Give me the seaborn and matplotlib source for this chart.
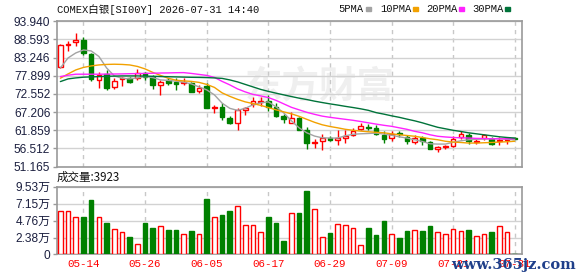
import numpy as np
import pandas as pd
import matplotlib
matplotlib.use("Agg")
import matplotlib.pyplot as plt
import seaborn as sns

# ---------------- data ----------------
title = "COMEX白银[SI00Y] 2026-07-31 14:40"
last_date = "2026-07-31"
volume_label = "成交量:3923"

open_ = [80.57, 87.04, 87.74, 88.42, 84.22, 76.66, 78.34, 74.52, 76.87, 77.16,
         77.16, 78.63, 77.63, 75.20, 76.66, 75.99, 75.78, 75.70, 73.52, 74.90,
         68.44, 68.82, 65.41, 63.94, 67.85, 69.53, 70.29, 70.58, 68.64, 66.09,
         64.12, 65.41, 61.98, 58.16, 58.54, 59.54, 58.83, 59.54, 60.51, 62.18,
         62.94, 62.65, 60.30, 59.54, 61.01, 59.83, 58.36, 59.54, 58.36, 56.39,
         56.78, 57.07, 59.71, 60.30, 58.24, 59.54, 59.24, 58.54, 59.04, 59.54]
close = [86.95, 87.24, 88.42, 84.51, 76.87, 78.13, 74.40, 76.37, 77.16, 76.17,
         78.63, 77.63, 75.20, 75.99, 75.70, 75.58, 76.17, 73.23, 74.40, 68.44,
         68.64, 65.88, 63.94, 67.85, 68.35, 70.50, 70.58, 68.82, 66.09, 65.12,
         65.41, 61.98, 58.07, 58.36, 59.54, 59.04, 59.54, 60.01, 61.68, 63.15,
         62.65, 60.80, 59.24, 60.71, 60.71, 58.54, 59.54, 58.54, 56.30, 56.78,
         57.07, 59.24, 60.71, 58.54, 58.54, 60.30, 57.86, 59.04, 59.54, 59.24]
high = [87.09, 88.21, 90.38, 89.21, 84.51, 78.93, 79.60, 77.16, 77.63, 77.63,
        79.90, 79.10, 78.13, 76.66, 77.16, 77.16, 77.16, 76.17, 75.20, 75.78,
        69.32, 69.82, 66.09, 68.35, 68.82, 71.76, 71.76, 72.26, 70.00, 66.68,
        67.35, 65.88, 62.94, 59.24, 60.80, 60.21, 61.77, 61.98, 62.48, 63.94,
        63.74, 63.24, 61.48, 61.48, 61.68, 60.51, 60.51, 60.01, 58.54, 57.07,
        57.57, 60.01, 61.68, 61.01, 59.24, 60.71, 59.71, 59.83, 59.83, 59.71]
low = [80.10, 85.18, 86.74, 84.01, 76.37, 74.23, 73.73, 74.02, 74.90, 75.70,
       76.66, 76.66, 74.02, 72.26, 75.20, 73.73, 75.20, 73.14, 72.93, 68.29,
       66.88, 64.91, 63.80, 61.98, 66.38, 68.82, 69.03, 67.65, 65.71, 63.94,
       63.94, 61.77, 56.30, 56.60, 56.10, 58.54, 57.57, 58.07, 60.01, 61.98,
       61.98, 60.51, 58.07, 58.54, 59.71, 57.86, 57.78, 57.57, 56.25, 55.42,
       56.39, 56.78, 59.33, 57.78, 57.78, 59.04, 57.36, 57.57, 57.78, 59.13]
volume_wan = [6.18, 6.09, 5.24, 5.24, 7.64, 5.24, 4.39, 3.63, 3.21, 2.41,
              1.51, 4.39, 3.68, 3.96, 3.40, 3.40, 2.92, 3.26, 2.92, 7.78,
              5.24, 5.52, 6.09, 6.75, 4.20, 4.20, 3.21, 5.24, 4.39, 1.84,
              5.90, 5.80, 8.92, 6.35, 2.48, 3.04, 4.25, 4.11, 3.69, 1.35,
              3.74, 2.76, 4.67, 2.85, 2.34, 3.32, 3.41, 3.32, 4.02, 3.13,
              2.85, 3.55, 3.32, 3.46, 2.62, 2.85, 3.18, 4.02, 3.13, 0.0392]

ma5 = [80.19, 83.13, 84.60, 85.48, 85.19, 83.57, 80.19, 77.84, 77.16, 76.96,
       77.25, 77.63, 77.34, 76.66, 76.52, 76.28, 75.99, 75.49, 74.61, 73.73,
       72.26, 69.82, 68.29, 67.70, 68.29, 69.32, 69.91, 70.20, 68.73, 66.97,
       64.62, 62.56, 61.09, 60.13, 59.62, 59.54, 59.54, 60.21, 60.65, 60.80,
       60.89, 61.01, 60.71, 60.36, 59.92, 59.54, 59.04, 58.54, 57.86, 57.77,
       57.77, 58.30, 58.74, 59.04, 59.18, 59.24, 59.33, 59.33, 59.18, 59.04]
ma10 = [77.16, 78.43, 79.60, 80.34, 80.78, 81.07, 81.22, 81.28, 81.22, 81.07,
        80.63, 79.90, 78.87, 77.99, 77.16, 76.58, 76.37, 76.23, 75.93, 75.34,
        74.46, 72.85, 71.82, 70.94, 70.20, 69.70, 69.17, 68.53, 67.85, 67.26,
        66.68, 65.94, 65.06, 64.18, 63.45, 62.95, 62.56, 62.12, 61.83, 61.59,
        61.39, 61.24, 61.09, 60.80, 60.51, 60.30, 60.07, 59.71, 59.33, 59.04,
        58.60, 58.36, 58.24, 58.07, 58.07, 58.16, 58.24, 58.36, 58.45, 58.60]
ma20 = [77.63, 78.05, 78.34, 78.34, 78.34, 78.34, 78.37, 78.40, 78.43, 78.49,
        78.52, 78.57, 78.63, 78.69, 78.72, 78.78, 78.81, 78.57, 78.28, 77.99,
        77.40, 76.23, 75.20, 74.02, 73.14, 72.40, 71.96, 71.47, 70.64, 69.61,
        68.59, 67.85, 67.12, 66.53, 66.00, 65.65, 65.35, 65.06, 64.77, 64.41,
        64.03, 63.65, 63.30, 63.00, 62.56, 62.12, 61.53, 61.09, 60.51, 60.07,
        59.86, 59.71, 59.62, 59.54, 59.45, 59.39, 59.33, 59.33, 59.33, 59.33]
ma30 = [76.17, 76.96, 77.25, 77.46, 77.55, 77.63, 77.72, 77.78, 77.84, 77.84,
        77.84, 77.78, 77.72, 77.66, 77.60, 77.55, 77.49, 77.43, 77.40, 77.34,
        77.25, 77.11, 76.66, 76.08, 75.34, 74.61, 73.87, 73.29, 72.76, 72.26,
        71.76, 71.29, 70.88, 70.41, 70.00, 69.61, 69.26, 68.88, 68.53, 68.15,
        67.70, 67.03, 66.59, 66.09, 65.65, 65.12, 64.62, 64.03, 63.36, 62.71,
        62.27, 61.83, 61.48, 61.09, 60.80, 60.51, 60.21, 59.92, 59.71, 59.54]

ma_names = ["5PMA", "10PMA", "20PMA", "30PMA"]
ma_colors = ["#a3a3a3", "#f2a100", "#ff22ff", "#00733a"]
price_ticks = [93.940, 88.593, 83.246, 77.899, 72.552, 67.206, 61.859, 56.512, 51.165]
vol_ticks = [0, 2.38, 4.76, 7.15, 9.53]
vol_tick_labels = ["0", "2.38万", "4.76万", "7.15万", "9.53万"]
date_tick_labels = ["05-14", "05-26", "06-05", "06-17", "06-29", "07-09", "07-21", "07-31"]

# ---------------- frame ----------------
dates = pd.bdate_range(end=last_date, periods=len(close)).strftime("%m-%d")
df = pd.DataFrame({"date": dates, "open": open_, "close": close, "high": high,
                   "low": low, "vol": volume_wan})
df["i"] = np.arange(len(df))
df["up"] = df["close"] >= df["open"]
ma_df = pd.DataFrame({"i": df["i"], "5PMA": ma5, "10PMA": ma10, "20PMA": ma20, "30PMA": ma30})
tick_pos = [int(df.index[df["date"] == d][0]) for d in date_tick_labels]

sns.set_theme(style="white")
plt.rcParams["font.family"] = ["Liberation Sans", "Noto Sans CJK SC", "DejaVu Sans"]

RED = "#ff0000"
GREEN = "#008000"
SPINE = "#9a9a9a"
GRID = "#d2d2d2"
LABEL = "#1b1f3f"

fig = plt.figure(figsize=(5.78, 2.76), dpi=100)
ax = fig.add_axes([0.0978, 0.3967, 0.8054, 0.5264])
axv = fig.add_axes([0.0978, 0.0779, 0.8054, 0.2457])

# watermark
ax.text(0.565, 0.55, "东方财富", transform=ax.transAxes, ha="center", va="center",
        fontsize=27, color="#efefef", family=["Noto Sans CJK SC"], fontweight="bold", zorder=0)

# candles
colors = np.where(df["up"], RED, GREEN)
ax.vlines(df["i"], df["low"], df["high"], colors=colors, lw=1, zorder=2)
u = df[df["up"]]
d = df[~df["up"]]
ax.bar(u["i"], u["close"] - u["open"], bottom=u["open"], width=0.6,
       facecolor="white", edgecolor=RED, lw=1, zorder=3)
ax.bar(d["i"], d["open"] - d["close"], bottom=d["close"], width=0.6,
       facecolor=GREEN, edgecolor=GREEN, lw=1, zorder=3)

for name, col in zip(ma_names, ma_colors):
    sns.lineplot(data=ma_df, x="i", y=name, ax=ax, color=col, lw=1, zorder=4)

ax.set_xlim(-0.5, 59.95)
ax.set_ylim(price_ticks[-1], price_ticks[0])
ax.set_yticks(price_ticks)
ax.set_yticklabels([f"{t:.3f}" for t in price_ticks])
ax.set_xticks(tick_pos)
ax.set_xticklabels([])
ax.set_xlabel("")
ax.set_ylabel("")

# volume
axv.bar(u["i"], u["vol"], width=0.6, facecolor="white", edgecolor=RED, lw=1, zorder=3)
axv.bar(d["i"], d["vol"], width=0.6, facecolor=GREEN, edgecolor=GREEN, lw=1, zorder=3)
axv.set_xlim(-0.5, 59.95)
axv.set_ylim(0, vol_ticks[-1])
axv.set_yticks(vol_ticks)
axv.set_yticklabels(vol_tick_labels)
axv.set_xticks(tick_pos)
axv.set_xticklabels(date_tick_labels, color=RED, family=["Liberation Mono"], fontsize=7.8)

for a in (ax, axv):
    a.grid(axis="y", color=GRID, lw=1, ls="-", zorder=0)
    a.grid(axis="x", color="#c8c8c8", lw=1, ls=(0, (3, 3)), zorder=0)
    a.set_axisbelow(True)
    for s in a.spines.values():
        s.set_color(SPINE)
        s.set_linewidth(1.2)
    a.tick_params(axis="y", length=3, width=1, color=SPINE, labelsize=8.6,
                  labelcolor=LABEL, pad=1.5, left=True)
    a.tick_params(axis="x", length=0, pad=3)

# titles & legend
fig.text(57 / 578, 1 - 10 / 276, title, ha="left", va="center", fontsize=7.6,
         family=["Liberation Mono", "Noto Sans CJK SC"], color="#111111")
leg_x = [338, 380, 426, 472]
sq_x = [366, 413, 459, 505]
for name, col, lx, sx in zip(ma_names, ma_colors, leg_x, sq_x):
    fig.text(lx / 578, 1 - 9 / 276, name, ha="left", va="center", fontsize=7.6,
             family=["Liberation Mono"], color="#111111")
    fig.patches.append(plt.Rectangle((sx / 578, 1 - 10.5 / 276), 5 / 578, 3.5 / 276,
                                     transform=fig.transFigure, color=col, figure=fig))
fig.text(57 / 578, 1 - 177 / 276, volume_label, ha="left", va="center", fontsize=8.3,
         family=["Noto Sans CJK SC"], color="#111111")

fig.text(576 / 578, 1 - 265 / 276, "www.365jz.com", ha="right", va="center", fontsize=10.5,
         family=["DejaVu Serif"], fontweight="bold", color="#1f3f8a")

fig.savefig("out.png", dpi=100)
